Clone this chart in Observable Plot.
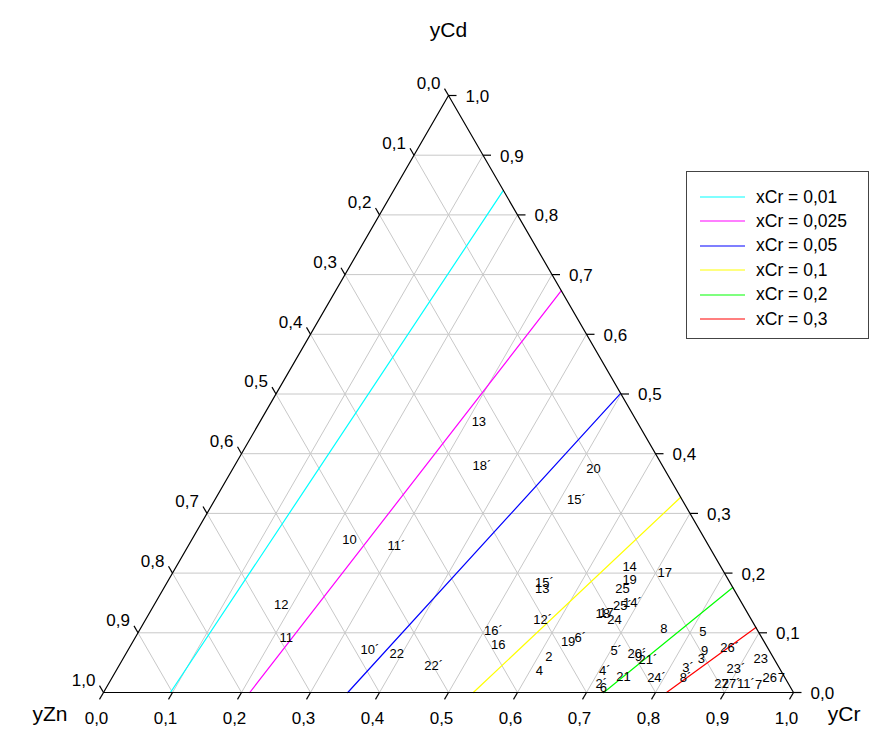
<!DOCTYPE html>
<html>
<head>
<meta charset="utf-8">
<script src="https://cdn.jsdelivr.net/npm/d3@7"></script>
<script src="https://cdn.jsdelivr.net/npm/@observablehq/plot@0.6"></script>
<style>
  body { margin: 0; background: #fff; font-family: "Liberation Sans", Arial, sans-serif; }
  #wrap { position: relative; width: 881px; height: 736px; }
  #legend { position: absolute; left: 686px; top: 171px; width: 183px; height: 168px;
            border: 1px solid #444; background: #fff; box-sizing: border-box; }
  .row { position: absolute; left: 0; height: 20px; display: flex; align-items: center; font-size: 17.5px; color: #000; }
  .row svg { margin-left: 13px; margin-right: 11px; }
</style>
</head>
<body>
<div id="wrap"><div id="legend"></div></div>
<script>
// Axis ticks
const tickValues = [0, 0.1, 0.2, 0.3, 0.4, 0.5, 0.6, 0.7, 0.8, 0.9, 1.0];
const tickLabels = ["0,0","0,1","0,2","0,3","0,4","0,5","0,6","0,7","0,8","0,9","1,0"];
const gridValues = [0.1, 0.2, 0.3, 0.4, 0.5, 0.6, 0.7, 0.8, 0.9];

// Iso-xCr lines (endpoints: yCr on the Zn–Cr edge, yCd on the Cd–Cr edge)
const seriesNames = ["xCr = 0,01", "xCr = 0,025", "xCr = 0,05", "xCr = 0,1", "xCr = 0,2", "xCr = 0,3"];
const seriesColors = ["#00ffff", "#ff00ff", "#0000ff", "#ffff00", "#00ff00", "#ff0000"];
const lineStartCr = [0.097, 0.212, 0.354, 0.536, 0.725, 0.816];
const lineEndCd   = [0.841, 0.673, 0.501, 0.327, 0.176, 0.109];

// Labelled compositions
const ptLabels = ["13","18´","20","15´","10","11´","12","11","10´","22","22´",
  "14","17","19","15´","13","25","14´","25´","18","17´","24","12´","16´","16","8",
  "19´","6´","5´","20´","9´","21´","2","4","4´","21","24´","2´","6",
  "5","9","3","26´","23","3´","8´","23´","27","27´","1","1´","7´","26","7"];
const ptCr = [0.317,0.359,0.523,0.524,0.229,0.302,0.184,0.219,0.350,0.393,0.456,
  0.657,0.713,0.668,0.547,0.549,0.665,0.691,0.679,0.658,0.665,0.680,0.576,0.513,0.532,0.759,
  0.634,0.645,0.708,0.741,0.749,0.762,0.616,0.613,0.708,0.740,0.789,0.714,0.721,
  0.818,0.836,0.838,0.870,0.924,0.826,0.831,0.897,0.888,0.902,0.916,0.928,0.946,0.953,0.970];
const ptCd = [0.454,0.379,0.374,0.323,0.255,0.245,0.147,0.092,0.072,0.064,0.045,
  0.211,0.201,0.189,0.184,0.174,0.174,0.151,0.146,0.131,0.134,0.121,0.121,0.104,0.080,0.106,
  0.085,0.092,0.070,0.064,0.059,0.054,0.059,0.037,0.037,0.027,0.025,0.015,0.007,
  0.101,0.070,0.057,0.075,0.057,0.042,0.025,0.039,0.015,0.015,0.015,0.015,0.013,0.025,0.025];

// ternary -> cartesian (Zn at left, Cr at right, Cd at top)
const H = Math.sqrt(3) / 2;
const tx = (cr, cd) => cr + cd / 2;
const ty = (cr, cd) => cd * H;
const L = 8 / 690; // tick length in data units

// grid segments
const grid = [];
for (const v of gridValues) {
  grid.push({x1: tx(0, v), y1: ty(0, v), x2: tx(1 - v, v), y2: ty(1 - v, v)});       // yCd = v
  grid.push({x1: tx(v, 0), y1: ty(v, 0), x2: tx(v, 1 - v), y2: ty(v, 1 - v)});       // yCr = v
  grid.push({x1: tx(0, 1 - v), y1: ty(0, 1 - v), x2: tx(1 - v, 0), y2: ty(1 - v, 0)}); // yZn = v
}
const frame = [[0, 0], [1, 0], [0, 1], [0, 0]].map(([cr, cd]) => ({x: tx(cr, cd), y: ty(cr, cd)}));

const bottomTicks = tickValues.map((v, i) => ({x: tx(v, 0), y: ty(v, 0), label: tickLabels[i]}));
const leftTicks = tickValues.map((v, i) => ({x: tx(0, 1 - v), y: ty(0, 1 - v), label: tickLabels[i]}));
const rightTicks = tickValues.map((v, i) => ({x: tx(1 - v, v), y: ty(1 - v, v), label: tickLabels[i]}));

const isoRows = [];
seriesNames.forEach((s, i) => {
  isoRows.push({s, x: tx(lineStartCr[i], 0), y: ty(lineStartCr[i], 0)});
  isoRows.push({s, x: tx(1 - lineEndCd[i], lineEndCd[i]), y: ty(1 - lineEndCd[i], lineEndCd[i])});
});
const pts = ptLabels.map((t, i) => ({t, x: tx(ptCr[i], ptCd[i]), y: ty(ptCr[i], ptCd[i])}));

const chart = Plot.plot({
  width: 881, height: 736, margin: 0,
  x: {domain: [0, 1], range: [103, 793], axis: null},
  y: {domain: [0, H], range: [692, 95], axis: null},
  color: {domain: seriesNames, range: seriesColors},
  style: {fontFamily: "'Liberation Sans', Arial, sans-serif", background: "#fff", overflow: "visible"},
  marks: [
    Plot.link(grid, {x1: "x1", y1: "y1", x2: "x2", y2: "y2", stroke: "#c8c8c8", strokeWidth: 1}),
    Plot.line(isoRows, {x: "x", y: "y", z: "s", stroke: "s", strokeWidth: 1.2}),
    Plot.line(frame, {x: "x", y: "y", stroke: "#000", strokeWidth: 1.2}),
    Plot.link(bottomTicks, {x1: "x", y1: "y", x2: d => d.x - 0.5 * L, y2: d => d.y - H * L, stroke: "#000", strokeWidth: 1.2}),
    Plot.link(leftTicks, {x1: "x", y1: "y", x2: d => d.x - 0.5 * L, y2: d => d.y + H * L, stroke: "#000", strokeWidth: 1.2}),
    Plot.link(rightTicks, {x1: "x", y1: "y", x2: d => d.x + L, y2: "y", stroke: "#000", strokeWidth: 1.2}),
    Plot.text(bottomTicks, {x: "x", y: "y", text: "label", dx: -7, dy: 26, fontSize: 17, fill: "#000"}),
    Plot.text(leftTicks, {x: "x", y: "y", text: "label", textAnchor: "end", dx: -8, dy: -12, fontSize: 17, fill: "#000"}),
    Plot.text(rightTicks, {x: "x", y: "y", text: "label", textAnchor: "start", dx: 17, dy: 1, fontSize: 17, fill: "#000"}),
    Plot.text(pts, {x: "x", y: "y", text: "t", fontSize: 13, fill: "#000"}),
    Plot.text(["yCd"], {frameAnchor: "top", dx: 7.5, dy: 22, fontSize: 21, fill: "#000"}),
    Plot.text(["yZn"], {frameAnchor: "bottom-left", dx: 32, dy: -16, fontSize: 21, fill: "#000"}),
    Plot.text(["yCr"], {frameAnchor: "bottom-right", dx: -21, dy: -16, fontSize: 21, fill: "#000"})
  ]
});
document.getElementById("wrap").prepend(chart);

const legend = document.getElementById("legend");
seriesNames.forEach((s, i) => {
  const row = document.createElement("div");
  row.className = "row";
  row.style.top = (15 + i * 24.4) + "px";
  row.innerHTML = `<svg width="45" height="4"><line x1="0" y1="2" x2="45" y2="2" stroke="${seriesColors[i]}" stroke-width="1.2"/></svg><span>${s}</span>`;
  legend.appendChild(row);
});
</script>
</body>
</html>
